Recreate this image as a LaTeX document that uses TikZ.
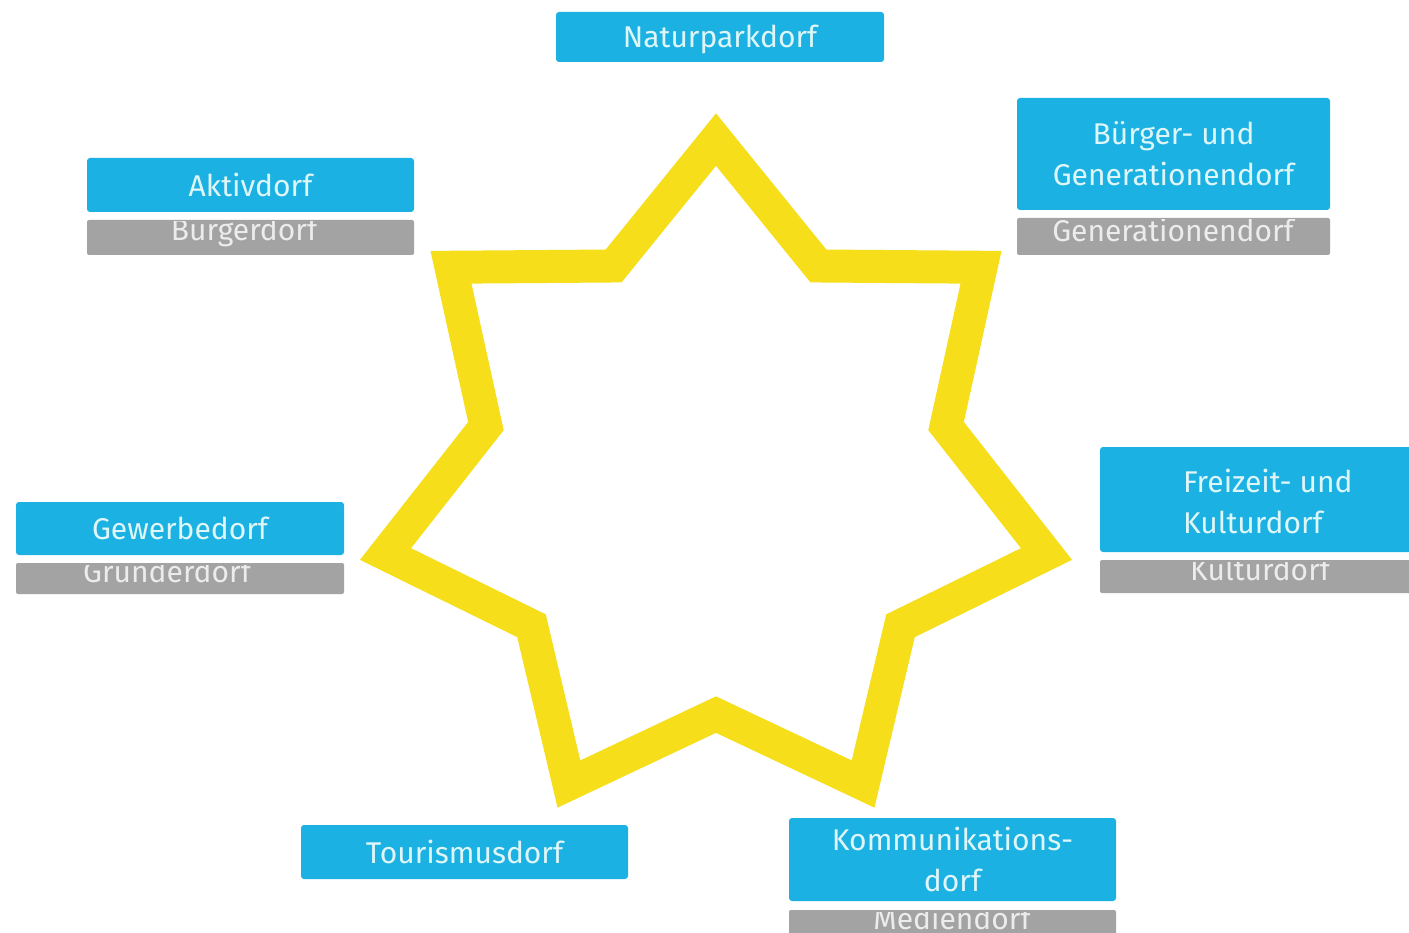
\documentclass[tikz,border=0pt]{standalone}
\usepackage{fontspec}
\setmainfont{Fira Sans}
\definecolor{boxblue}{RGB}{27,177,226}
\definecolor{boxgray}{RGB}{163,163,163}
\definecolor{staryellow}{RGB}{246,222,26}
\definecolor{bluetext}{RGB}{222,246,248}
\definecolor{graytext}{RGB}{236,236,236}
\tikzset{
  bluebox/.style={fill=boxblue, rounded corners=3pt, inner sep=0pt, text=bluetext,
    font=\fontsize{30}{41}\selectfont, align=center},
  bluetxt/.style={text=bluetext, font=\fontsize{30}{41}\selectfont, inner sep=0pt},
  graybox/.style={fill=boxgray, rounded corners=2pt},
  graylabel/.style={text=graytext, font=\fontsize{30}{41}\selectfont, anchor=base, inner sep=0pt},
  starline/.style={draw=staryellow, line width=33pt, line join=miter}
}
\begin{document}
\begin{tikzpicture}[x=1pt,y=-1pt]
\useasboundingbox (0,0) rectangle (1409,933);
\fill[white] (0,0) rectangle (1409,933);

% star
\draw[starline] ({716+339*cos(90)},{478.6-339*sin(90)})
  \foreach \k/\rr in {1/236,2/339,3/236,4/339,5/236,6/339,7/236,8/339,9/236,10/339,11/236,12/339,13/236}
  { -- ({716+\rr*cos(90-\k*180/7)},{478.6-\rr*sin(90-\k*180/7)}) } -- cycle;

% gray boxes with clipped labels
\path[graybox] (87,220) rectangle (414,255) node[midway] (g1) {};
\begin{scope}\clip (87,222) rectangle (414,255);
\node[graylabel] (g1t) at (244,241) {Bürgerdorf};
\end{scope}

\path[graybox] (1017,218) rectangle (1330,255) node[midway] (g2) {};
\begin{scope}\clip (1017,220) rectangle (1330,255);
\node[graylabel] (g2t) at (1173,242) {Generationendorf};
\end{scope}

\path[graybox] (16,563) rectangle (344,594) node[midway] (g3) {};
\begin{scope}\clip (16,565) rectangle (344,594);
\node[graylabel] (g3t) at (167,582) {Gründerdorf};
\end{scope}

\path[graybox] (1100,560) rectangle (1414,593) node[midway] (g4) {};
\begin{scope}\clip (1100,562) rectangle (1414,593);
\node[graylabel] (g4t) at (1260,580) {Kulturdorf};
\end{scope}

\path[graybox] (789,910) rectangle (1116,945) node[midway] (g5) {};
\begin{scope}\clip (789,912) rectangle (1116,945);
\node[graylabel] (g5t) at (952,929) {Mediendorf};
\end{scope}

% blue boxes
\node[bluebox, minimum width=328pt, minimum height=50pt, text height=22pt, text depth=0pt] (nat) at (720,37) {Naturparkdorf};
\node[bluebox, minimum width=327pt, minimum height=54pt] (akt) at (250.5,185) {Aktivdorf};
\node[bluebox, minimum width=313pt, minimum height=112pt] (bue) at (1173.5,154) {Bürger- und\\Generationendorf};
\node[bluebox, minimum width=328pt, minimum height=53pt] (gew) at (180,528.5) {Gewerbedorf};
\node[bluebox, minimum width=314pt, minimum height=105pt] (fre) at (1257,499.5) {};
\node[bluetxt, align=left, anchor=west] (fret) at ([xshift=83pt,yshift=-2pt]fre.west) {Freizeit- und\\Kulturdorf};
\node[bluebox, minimum width=327pt, minimum height=54pt] (tou) at (464.5,852) {Tourismusdorf};
\node[bluebox, minimum width=327pt, minimum height=83pt] (kom) at (952.5,859.5) {Kommunikations-\\dorf};
\end{tikzpicture}
\end{document}
